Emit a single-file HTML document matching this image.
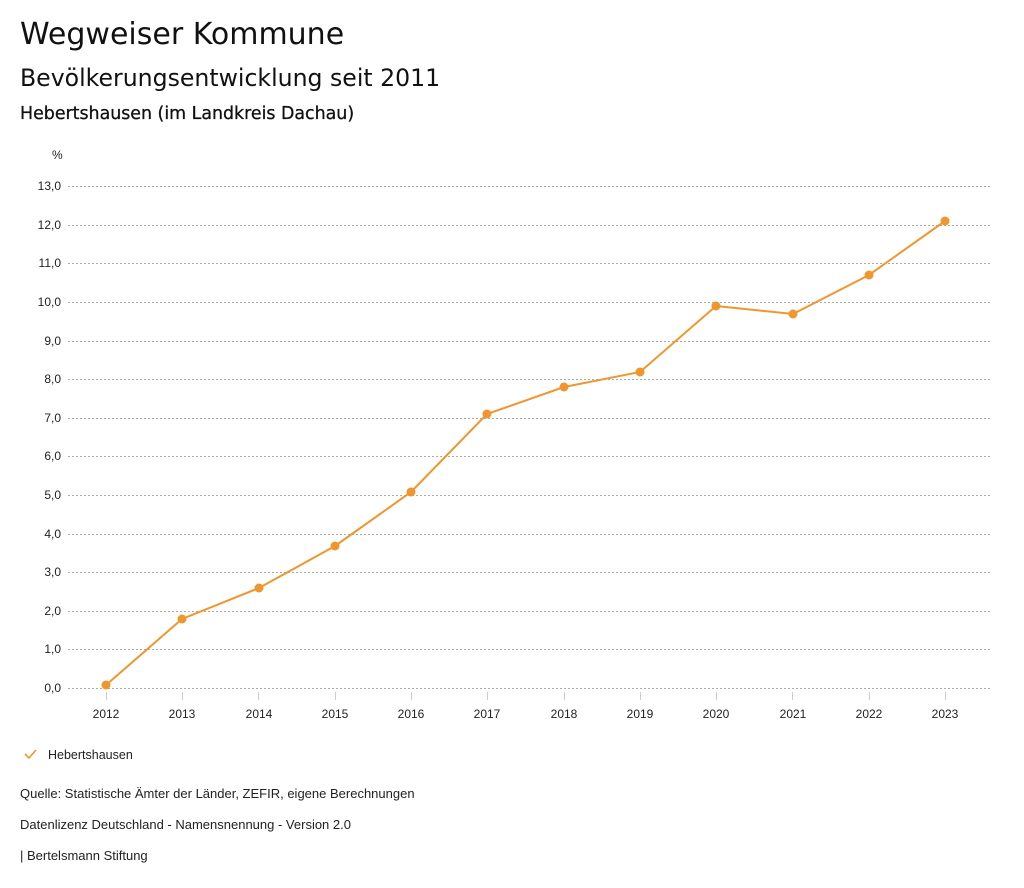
<!DOCTYPE html>
<html><head><meta charset="utf-8"><style>
body{margin:0;background:#fff;width:1024px;height:888px;overflow:hidden;font-family:"DejaVu Sans",sans-serif;color:#111}
.t{position:absolute;white-space:nowrap}
</style></head><body>
<div class="t" style="left:20px;top:17px;font-size:30px">Wegweiser Kommune</div>
<div class="t" style="left:20px;top:64px;font-size:23.6px">Bevölkerungsentwicklung seit 2011</div>
<div class="t" style="left:20px;top:104px;font-size:17.4px;font-weight:500;-webkit-text-stroke:0.3px #111">Hebertshausen (im Landkreis Dachau)</div>
<svg width="1024" height="888" style="position:absolute;left:0;top:0" font-family="Liberation Sans, sans-serif">
<text x="52" y="159" font-size="12" fill="#222">%</text>
<g stroke="#aaa" stroke-dasharray="2,2" stroke-width="1">
<line x1="68" x2="990" y1="186.5" y2="186.5"/><line x1="68" x2="990" y1="225.5" y2="225.5"/><line x1="68" x2="990" y1="263.5" y2="263.5"/><line x1="68" x2="990" y1="302.5" y2="302.5"/><line x1="68" x2="990" y1="341.5" y2="341.5"/><line x1="68" x2="990" y1="379.5" y2="379.5"/><line x1="68" x2="990" y1="418.5" y2="418.5"/><line x1="68" x2="990" y1="456.5" y2="456.5"/><line x1="68" x2="990" y1="495.5" y2="495.5"/><line x1="68" x2="990" y1="534.5" y2="534.5"/><line x1="68" x2="990" y1="572.5" y2="572.5"/><line x1="68" x2="990" y1="611.5" y2="611.5"/><line x1="68" x2="990" y1="649.5" y2="649.5"/><line x1="68" x2="990" y1="688.5" y2="688.5"/>
</g>
<g font-size="12" fill="#222" text-anchor="end">
<text x="61" y="190">13,0</text><text x="61" y="229">12,0</text><text x="61" y="267">11,0</text><text x="61" y="306">10,0</text><text x="61" y="345">9,0</text><text x="61" y="383">8,0</text><text x="61" y="422">7,0</text><text x="61" y="460">6,0</text><text x="61" y="499">5,0</text><text x="61" y="538">4,0</text><text x="61" y="576">3,0</text><text x="61" y="615">2,0</text><text x="61" y="653">1,0</text><text x="61" y="692">0,0</text>
</g>
<g stroke="#ccc"><line x1="106.5" x2="106.5" y1="692" y2="700"/><line x1="182.5" x2="182.5" y1="692" y2="700"/><line x1="258.5" x2="258.5" y1="692" y2="700"/><line x1="335.5" x2="335.5" y1="692" y2="700"/><line x1="411.5" x2="411.5" y1="692" y2="700"/><line x1="487.5" x2="487.5" y1="692" y2="700"/><line x1="564.5" x2="564.5" y1="692" y2="700"/><line x1="640.5" x2="640.5" y1="692" y2="700"/><line x1="716.5" x2="716.5" y1="692" y2="700"/><line x1="792.5" x2="792.5" y1="692" y2="700"/><line x1="869.5" x2="869.5" y1="692" y2="700"/><line x1="945.5" x2="945.5" y1="692" y2="700"/></g>
<g font-size="12" fill="#222" text-anchor="middle">
<text x="106" y="718">2012</text><text x="182" y="718">2013</text><text x="259" y="718">2014</text><text x="335" y="718">2015</text><text x="411" y="718">2016</text><text x="487" y="718">2017</text><text x="564" y="718">2018</text><text x="640" y="718">2019</text><text x="716" y="718">2020</text><text x="793" y="718">2021</text><text x="869" y="718">2022</text><text x="945" y="718">2023</text>
</g>
<polyline fill="none" stroke="#f0962e" stroke-width="2" points="106,685 182,619 259,588 335,546 411,492 487,414 564,387 640,372 716,306 793,314 869,275 945,221"/>
<g fill="#f0962e"><circle cx="106" cy="685" r="4.5"/><circle cx="182" cy="619" r="4.5"/><circle cx="259" cy="588" r="4.5"/><circle cx="335" cy="546" r="4.5"/><circle cx="411" cy="492" r="4.5"/><circle cx="487" cy="414" r="4.5"/><circle cx="564" cy="387" r="4.5"/><circle cx="640" cy="372" r="4.5"/><circle cx="716" cy="306" r="4.5"/><circle cx="793" cy="314" r="4.5"/><circle cx="869" cy="275" r="4.5"/><circle cx="945" cy="221" r="4.5"/></g>
<polyline points="25,754 29,758 36,750" fill="none" stroke="#f0962e" stroke-width="1.6"/>
<text x="48" y="759" font-size="12.5" fill="#222">Hebertshausen</text>
<text x="20" y="798" font-size="13" fill="#222">Quelle: Statistische Ämter der Länder, ZEFIR, eigene Berechnungen</text>
<text x="20" y="829" font-size="13" fill="#222">Datenlizenz Deutschland - Namensnennung - Version 2.0</text>
<text x="20" y="860" font-size="13" fill="#222">| Bertelsmann Stiftung</text>
</svg>
</body></html>
